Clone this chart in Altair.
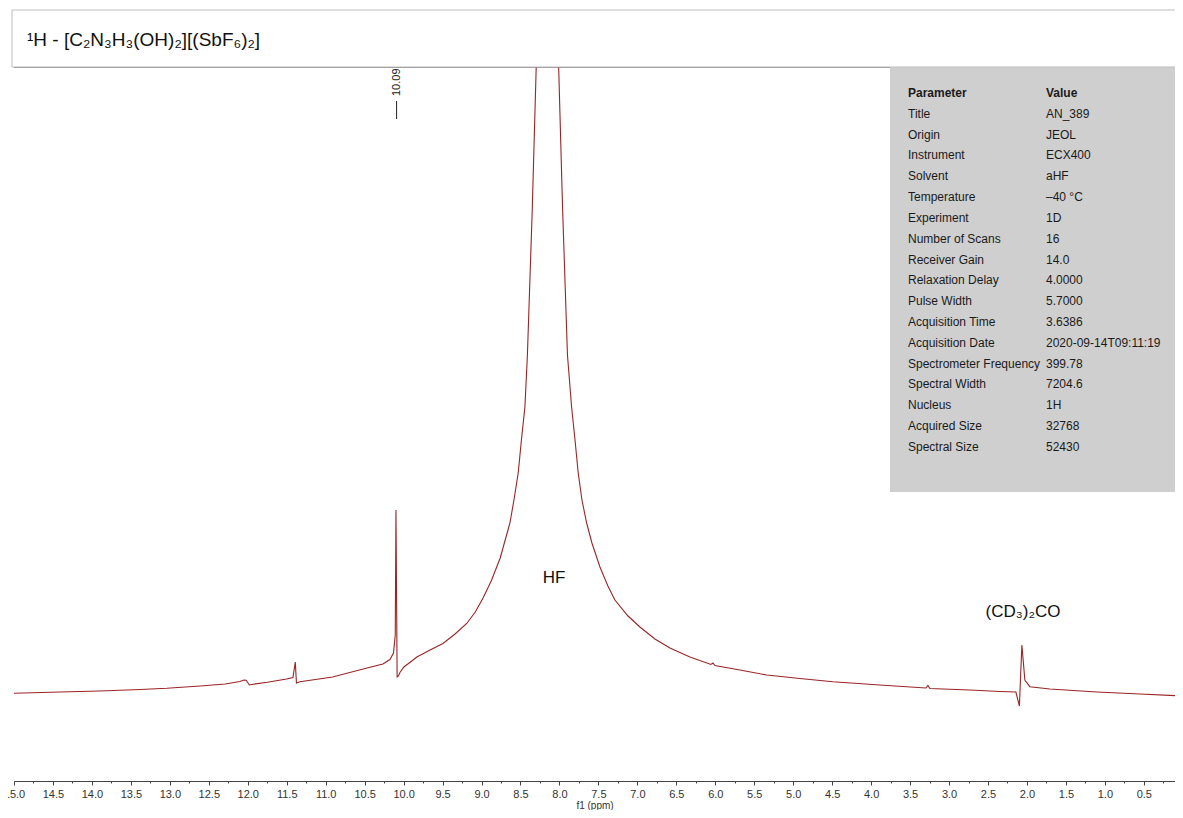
import altair as alt
import pandas as pd

FONT = "Liberation Sans, Arial, Helvetica, sans-serif"

# ---- spectrum trace (chemical shift in ppm, intensity in arbitrary units) ----
ppm = [15.00, 14.41, 13.90, 13.38, 13.04, 12.61, 12.29, 12.10, 12.05, 12.02,
       11.98, 11.95, 11.75, 11.50, 11.42, 11.39, 11.375, 11.33, 10.91, 10.47,
       10.265, 10.175, 10.13, 10.107, 10.098, 10.083, 10.066, 10.047, 9.996, 9.92,
       9.83, 9.66, 9.495, 9.34, 9.19, 9.08, 8.98, 8.87, 8.76, 8.70,
       8.635, 8.584, 8.529, 8.488, 8.443, 8.411, 8.349, 8.298, 8.154, 8.01,
       7.959, 7.897, 7.844, 7.80, 7.759, 7.711, 7.651, 7.583, 7.48, 7.378,
       7.288, 7.12, 6.967, 6.775, 6.582, 6.325, 6.056, 6.03, 6.005, 5.684,
       5.338, 4.914, 4.491, 3.888, 3.297, 3.271, 3.246, 2.733, 2.348, 2.142,
       2.097, 2.065, 2.027, 1.963, 1.706, 1.103, 0.551, 0.00]
intensity = [87.7, 89.0, 90.0, 91.5, 92.7, 95.0, 97.0, 99.5, 101.0, 100.7,
             96.0, 96.5, 98.7, 102.0, 103.5, 119.0, 98.0, 99.3, 104.0, 113.0,
             117.0, 121.5, 128.0, 146.0, 271.0, 104.0, 105.0, 108.5, 114.0, 118.5,
             124.0, 131.0, 137.5, 147.0, 157.5, 169.0, 183.0, 201.0, 223.0, 240.0,
             258.0, 281.0, 308.0, 341.0, 374.0, 426.0, 571.0, 714.0, 1081.0, 714.0,
             571.0, 426.0, 374.0, 341.0, 308.0, 281.0, 258.0, 238.0, 214.0, 195.0,
             181.0, 165.0, 154.0, 142.0, 133.0, 124.0, 116.5, 118.0, 115.5, 111.0,
             106.0, 102.5, 99.3, 96.0, 93.0, 95.5, 92.5, 91.0, 89.5, 89.0,
             75.0, 136.0, 101.0, 94.3, 92.0, 89.0, 87.0, 85.0]

# ---- annotations ----
label_text = ["HF", "(CD\u2083)\u2082CO"]
label_ppm = [8.07, 2.05]
label_int = [203, 169]

peak_pick = ["10.09"]
peak_pick_ppm = [10.09]

# ---- parameter table ----
param_names = ["Title", "Origin", "Instrument", "Solvent", "Temperature", "Experiment",
               "Number of Scans", "Receiver Gain", "Relaxation Delay", "Pulse Width",
               "Acquisition Time", "Acquisition Date", "Spectrometer Frequency",
               "Spectral Width", "Nucleus", "Acquired Size", "Spectral Size"]
param_values = ["AN_389", "JEOL", "ECX400", "aHF", "\u201340 \u00b0C", "1D", "16", "14.0",
                "4.0000", "5.7000", "3.6386", "2020-09-14T09:11:19", "399.78", "7204.6",
                "1H", "32768", "52430"]

title_text = "\u00b9H - [C\u2082N\u2083H\u2083(OH)\u2082][(SbF\u2086)\u2082]"
x_axis_title = "f1 (ppm)"
major_ticks = [15 - 0.5 * i for i in range(31)]
minor_ticks = [14.75 - 0.5 * i for i in range(30)]

# visible window (the page is cropped just after 0.1 ppm)
X_DOMAIN = [15, 0.1]
W, H = 1161, 714
LINE = "#9a2424"

spec = pd.DataFrame({"ppm": ppm, "intensity": intensity})
labels = pd.DataFrame({"text": label_text, "ppm": label_ppm, "intensity": label_int})
picks = pd.DataFrame({"text": peak_pick, "ppm": peak_pick_ppm,
                      "top": [685], "r1": [680], "r2": [662]})
table = pd.DataFrame({"row": list(range(1, len(param_names) + 1)),
                      "param": param_names, "value": param_values})
header = pd.DataFrame({"row": [0], "param": ["Parameter"], "value": ["Value"]})
one = pd.DataFrame({"k": [0]})

xscale = alt.Scale(domain=X_DOMAIN, nice=False, zero=False)
yscale = alt.Scale(domain=[0, H], nice=False, zero=False)

major_axis = alt.Axis(
    orient="bottom",
    values=major_ticks,
    format=".1f",
    tickSize=4,
    labelFlush=False,
    labelOverlap=False,
    labelFont=FONT,
    labelFontSize=11,
    labelColor="#333333",
    labelPadding=3,
    domainColor="#444444",
    tickColor="#444444",
    grid=False,
    title=x_axis_title,
    titleFont=FONT,
    titleFontSize=10,
    titleFontWeight="normal",
    titleColor="#333333",
    titlePadding=1,
)
minor_axis = alt.Axis(
    orient="bottom",
    values=minor_ticks,
    tickSize=2,
    tickColor="#444444",
    labels=False,
    domain=False,
    grid=False,
    title=None,
)

# gray parameter box
table_box = alt.Chart(one).mark_rect(color="#cfcfcf").encode(
    x=alt.value(876), x2=alt.value(W + 2), y=alt.value(0), y2=alt.value(425)
)

line = alt.Chart(spec).mark_line(color=LINE, strokeWidth=1.1, clip=True).encode(
    x=alt.X("ppm:Q", scale=xscale, axis=major_axis),
    y=alt.Y("intensity:Q", scale=yscale, axis=None),
)

minor_layer = alt.Chart(spec).mark_point(opacity=0).encode(
    x=alt.X("ppm:Q", scale=xscale, axis=minor_axis),
    y=alt.Y("intensity:Q", scale=yscale, axis=None),
)

label_marks = alt.Chart(labels).mark_text(
    font=FONT, fontSize=17, color="#111111", align="center", baseline="middle"
).encode(x="ppm:Q", y="intensity:Q", text="text:N")

pick_text = alt.Chart(picks).mark_text(
    font=FONT, fontSize=11, color="#222222", angle=270, align="left", baseline="middle"
).encode(x="ppm:Q", y="top:Q", text="text:N")

pick_rule = alt.Chart(picks).mark_rule(color="#222222", strokeWidth=1).encode(
    x="ppm:Q", y="r1:Q", y2="r2:Q"
)

table_text = alt.Chart(table).transform_calculate(ty="26 + datum.row * 20.82")
param_col = table_text.mark_text(
    font=FONT, fontSize=12, color="#1a1a1a", align="left", baseline="middle"
).encode(x=alt.value(894), y=alt.Y("ty:Q", scale=None), text="param:N")
value_col = table_text.mark_text(
    font=FONT, fontSize=12, color="#1a1a1a", align="left", baseline="middle"
).encode(x=alt.value(1032), y=alt.Y("ty:Q", scale=None), text="value:N")

head = alt.Chart(header).transform_calculate(ty="26 + datum.row * 20.82")
head_param = head.mark_text(
    font=FONT, fontSize=12, fontWeight="bold", color="#1a1a1a", align="left", baseline="middle"
).encode(x=alt.value(894), y=alt.Y("ty:Q", scale=None), text="param:N")
head_value = head.mark_text(
    font=FONT, fontSize=12, fontWeight="bold", color="#1a1a1a", align="left", baseline="middle"
).encode(x=alt.value(1032), y=alt.Y("ty:Q", scale=None), text="value:N")

title_box = alt.Chart(one).mark_rect(fill="white", stroke="#bdbdbd", strokeWidth=1).encode(
    x=alt.value(-2), x2=alt.value(W + 4), y=alt.value(-57), y2=alt.value(0)
)
title_mark = alt.Chart(one).mark_text(
    font=FONT, fontSize=19, color="#111111", align="left", baseline="middle"
).encode(x=alt.value(13), y=alt.value(-27), text=alt.value(title_text))

chart = alt.layer(
    table_box, line, minor_layer, label_marks, pick_rule, pick_text,
    param_col, value_col, head_param, head_value,
    title_box, title_mark,
).resolve_axis(x="independent").properties(
    width=W,
    height=H,
    autosize=alt.AutoSizeParams(type="none"),
    padding={"left": 6, "top": 59, "right": 0, "bottom": 29},
    background="white",
).configure_view(stroke=None)

chart.save("out.html", embed_options={"renderer": "svg", "actions": False})
